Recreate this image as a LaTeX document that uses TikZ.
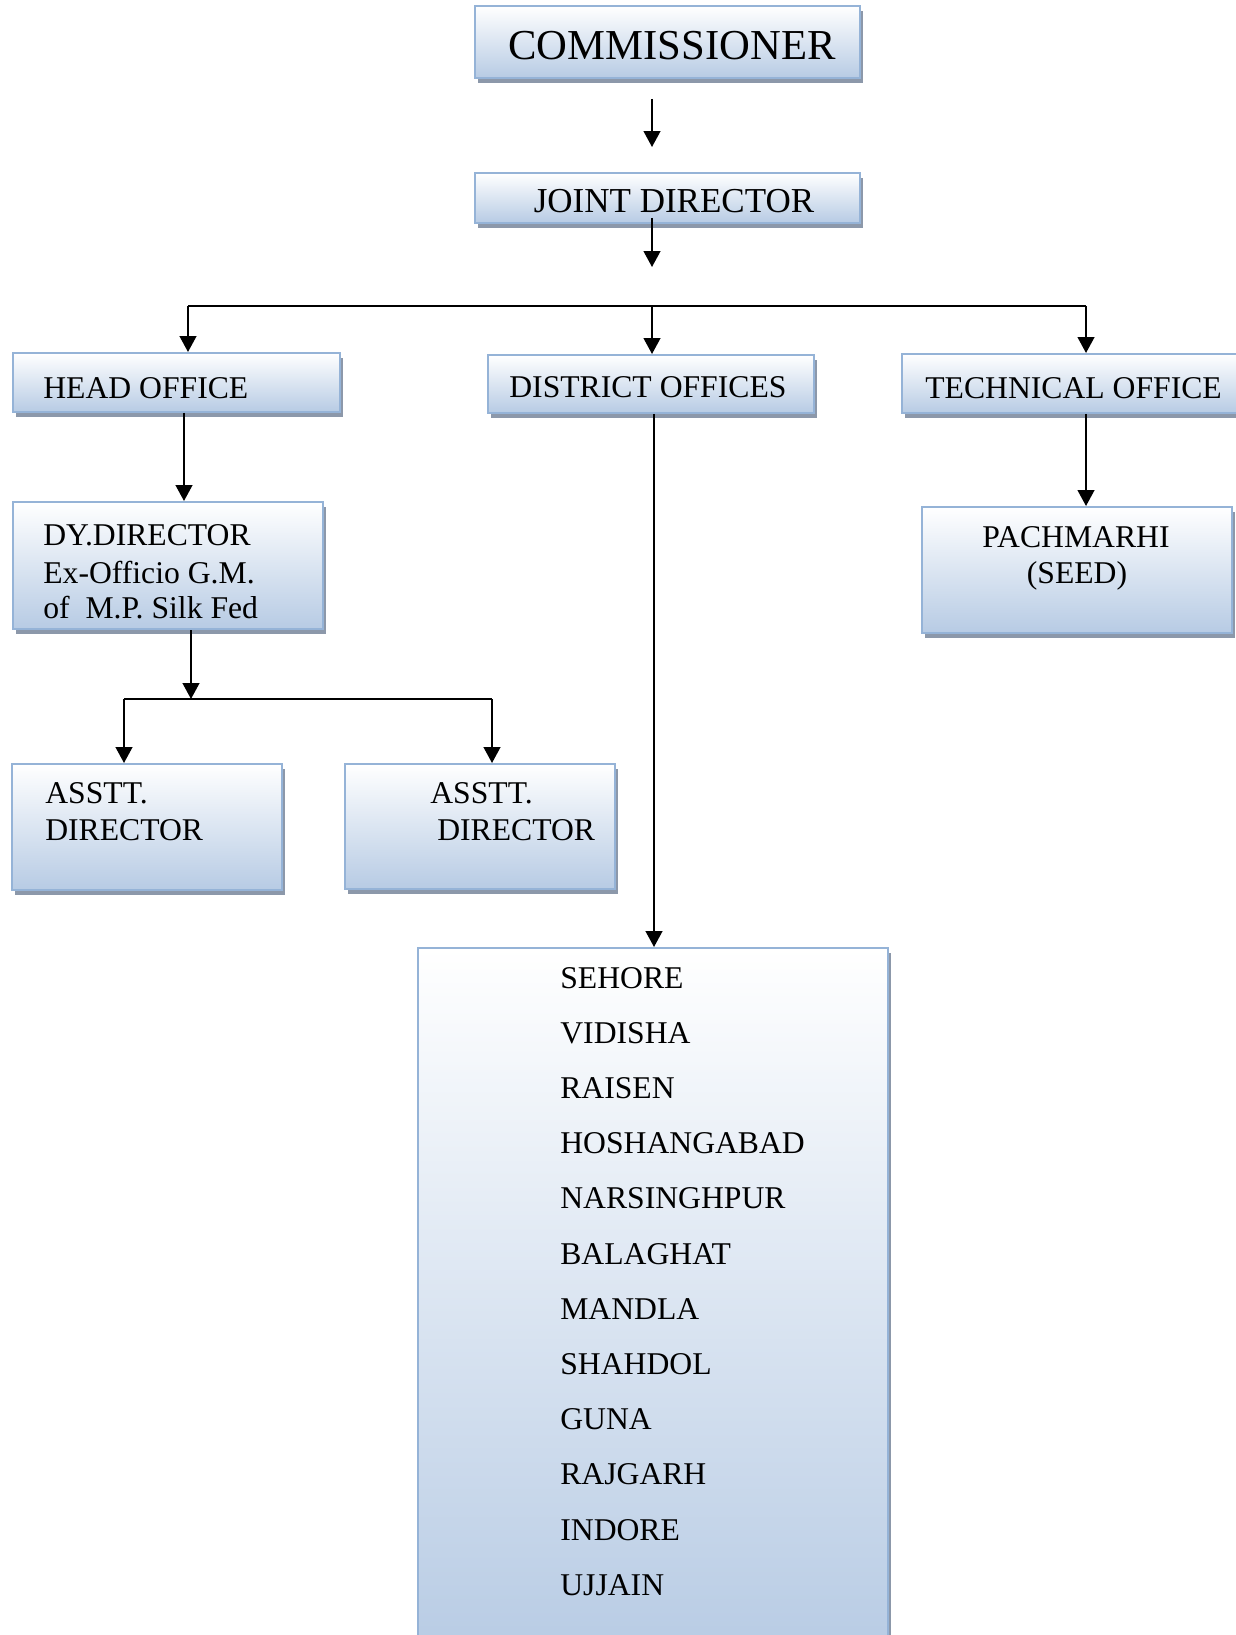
\documentclass[tikz,border=0pt]{standalone}
\usepackage{fontspec}
\setmainfont{Liberation Serif}
\usetikzlibrary{fit,shadows,arrows.meta}
\definecolor{boxblue}{RGB}{183,203,228}
\definecolor{boxline}{RGB}{149,179,215}
\definecolor{shadowc}{RGB}{140,152,170}
\begin{document}
\begin{tikzpicture}[x=0.6pt,y=-0.6pt,
  box/.style={draw=boxline, line width=1.2pt, top color=white, bottom color=boxblue,
    inner sep=0pt, drop shadow={shadow xshift=2pt, shadow yshift=-3pt, fill=shadowc, opacity=1}},
  arr/.style={-{Triangle[width=10pt,length=9.5pt]}, line width=1.1pt},
  conn/.style={line width=1.1pt},
  lbl/.style={inner sep=0pt, font=\fontsize{19}{22}\selectfont},
  big/.style={inner sep=0pt, font=\fontsize{25.6}{30}\selectfont},
  mid/.style={inner sep=0pt, font=\fontsize{21}{25}\selectfont},
]
\useasboundingbox (0,0) rectangle (1235,1635);

% boxes
\node[box, fit={(475,6) (860,78)}] (comm) {};
\node[box, fit={(475,173) (860,223)}] (jd) {};
\node[box, fit={(13,353) (340,412)}] (head) {};
\node[box, fit={(488,355) (814,413)}] (dist) {};
\node[box, fit={(902,354) (1250,413)}] (tech) {};
\node[box, fit={(13,502) (323,629)}] (dy) {};
\node[box, fit={(922,507) (1232,633)}] (pach) {};
\node[box, fit={(12,764) (282,890)}] (asst1) {};
\node[box, fit={(345,764) (615,889)}] (asst2) {};
\node[box, fit={(418,948) (888,1660)}] (list) {};

% texts
\node[big, anchor=base] (tcomm) at (672,60) {COMMISSIONER};
\node[mid, anchor=base] (tjd) at (674,213) {JOINT DIRECTOR};
\node[lbl, anchor=base west] (thead) at (43,399) {HEAD OFFICE};
\node[lbl, anchor=base west] (tdist) at (509,398) {DISTRICT OFFICES};
\node[lbl, anchor=base west] (ttech) at (925,399) {TECHNICAL OFFICE};
\node[lbl, anchor=base west] (tdy1) at (43,545) {DY.DIRECTOR};
\node[lbl, anchor=base west] (tdy2) at (43,583) {Ex-Officio G.M.};
\node[lbl, anchor=base west] (tdy3) at (43,618) {of~~M.P. Silk Fed};
\node[lbl, anchor=base] (tpach1) at (1076,547) {PACHMARHI};
\node[lbl, anchor=base] (tpach2) at (1077,583) {(SEED)};
\node[lbl, anchor=base west] (ta1a) at (45,803) {ASSTT.};
\node[lbl, anchor=base west] (ta1b) at (45,840) {DIRECTOR};
\node[lbl, anchor=base west] (ta2a) at (430,803) {ASSTT.};
\node[lbl, anchor=base west] (ta2b) at (437,840) {DIRECTOR};
\foreach \name [count=\i from 0] in {SEHORE,VIDISHA,RAISEN,HOSHANGABAD,NARSINGHPUR,BALAGHAT,MANDLA,SHAHDOL,GUNA,RAJGARH,INDORE,UJJAIN}
  \node[lbl, anchor=base west] (d\i) at (560,988+55.2*\i) {\name};

% coordinates
\coordinate (a1s) at (652,99);
\coordinate (a1e) at (652,147);
\coordinate (a2s) at (652,218);
\coordinate (a2e) at (652,267);
\coordinate (busL) at (188,306);
\coordinate (busM) at (652,306);
\coordinate (busR) at (1086,306);
\coordinate (hx) at (184,0);
\coordinate (dyx) at (191,0);
\coordinate (jL) at (124,699);
\coordinate (jM) at (191,699);
\coordinate (jR) at (492,699);
\coordinate (dx) at (654,0);
\coordinate (tx) at (1086,0);

% connectors
\draw[arr] (a1s) -- (a1e);
\draw[arr] (a2s) -- (a2e);
\draw[conn] (busL) -- (busR);
\draw[arr] (busL) -- (busL |- head.north);
\draw[arr] (busM) -- (busM |- dist.north);
\draw[arr] (busR) -- (busR |- tech.north);
\draw[arr] (head.south -| hx) -- (dy.north -| hx);
\draw[arr] (dy.south -| dyx) -- (jM);
\draw[conn] (jL) -- (jR);
\draw[arr] (jL) -- (jL |- asst1.north);
\draw[arr] (jR) -- (jR |- asst2.north);
\draw[arr] (tech.south -| tx) -- (pach.north -| tx);
\draw[arr] (dist.south -| dx) -- (list.north -| dx);
\end{tikzpicture}
\end{document}
